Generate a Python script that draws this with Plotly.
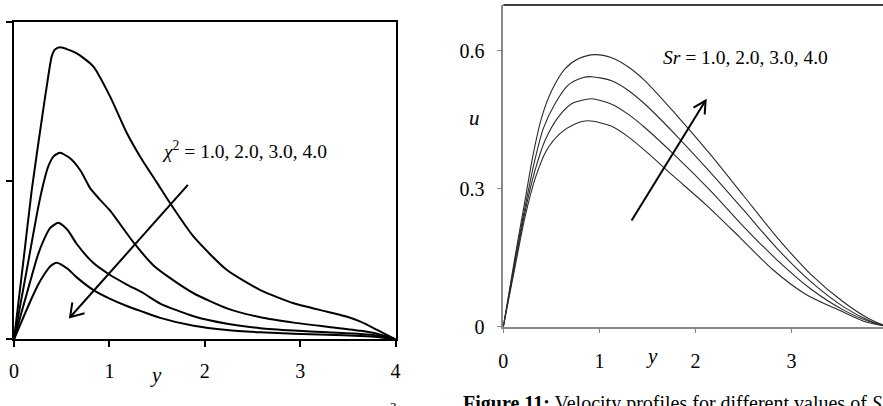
import math
import plotly.graph_objects as go

W, H = 883, 406
FONT = "Liberation Serif, Times New Roman, serif"

# ---------------- Left panel: chi^2 = 1.0, 2.0, 3.0, 4.0 ----------------
chi_labels = ["χ² = 1.0", "χ² = 2.0", "χ² = 3.0", "χ² = 4.0"]
left_x1 = [0, 0.098, 0.186, 0.300, 0.350, 0.395, 0.430, 0.483, 0.658, 0.833, 1.008, 1.183, 1.323,
           1.500, 1.638, 1.883, 2.233, 2.583, 2.933, 3.283, 3.493, 3.633, 3.808, 4.0]
left_y1 = [0, 0.49, 0.94, 1.42, 1.62, 1.78, 1.825, 1.839, 1.801, 1.717, 1.528, 1.299, 1.150,
           0.985, 0.856, 0.646, 0.436, 0.310, 0.227, 0.174, 0.142, 0.111, 0.059, 0]
left_x2 = [0, 0.150, 0.250, 0.308, 0.360, 0.420, 0.483, 0.588, 0.700, 0.800, 0.900, 1.008,
           1.253, 1.463, 1.638, 1.883, 2.233, 2.583, 2.933, 3.283, 3.633, 3.808, 4.0]
left_y2 = [0, 0.49, 0.82, 0.98, 1.09, 1.155, 1.174, 1.140, 1.06, 0.95, 0.88, 0.81,
           0.61, 0.465, 0.385, 0.290, 0.195, 0.139, 0.105, 0.079, 0.054, 0.035, 0]
left_x3 = [0, 0.168, 0.250, 0.308, 0.378, 0.465, 0.560, 0.658, 0.833, 1.008, 1.183, 1.358,
           1.533, 1.883, 2.233, 2.583, 2.933, 3.283, 3.633, 3.808, 4.0]
left_y3 = [0, 0.360, 0.530, 0.620, 0.700, 0.734, 0.690, 0.600, 0.480, 0.405, 0.345, 0.290,
           0.225, 0.145, 0.098, 0.070, 0.055, 0.044, 0.034, 0.025, 0]
left_x4 = [0, 0.168, 0.250, 0.308, 0.378, 0.448, 0.560, 0.658, 0.833, 1.008, 1.183, 1.358,
           1.533, 1.883, 2.233, 2.583, 2.933, 3.283, 3.633, 3.808, 4.0]
left_y4 = [0, 0.235, 0.340, 0.400, 0.458, 0.482, 0.445, 0.390, 0.310, 0.255, 0.210, 0.172,
           0.135, 0.085, 0.058, 0.044, 0.035, 0.028, 0.021, 0.015, 0]
left_xticks = [0, 1, 2, 3, 4]
left_yticks = [0, 1, 2]
left_arrow_tail = (1.823, 0.972)
left_arrow_head = (0.588, 0.139)

# ---------------- Right panel: Sr = 1.0, 2.0, 3.0, 4.0 ----------------
sr_labels = ["Sr = 1.0", "Sr = 2.0", "Sr = 3.0", "Sr = 4.0"]
right_x1 = [0, 0.122, 0.226, 0.337, 0.451, 0.590, 0.746, 0.885, 1.128, 1.301, 1.475, 1.769,
            2.116, 2.463, 2.800, 3.150, 3.503, 3.750, 4.0]
right_y1 = [0, 0.130, 0.239, 0.326, 0.384, 0.420, 0.441, 0.448, 0.436, 0.413, 0.383, 0.328,
            0.264, 0.194, 0.125, 0.070, 0.035, 0.012, 0]
right_x2 = [0, 0.122, 0.226, 0.330, 0.434, 0.572, 0.711, 0.850, 0.920, 1.128, 1.301, 1.475,
            1.800, 2.150, 2.500, 2.850, 3.200, 3.550, 3.800, 4.0]
right_y2 = [0, 0.138, 0.250, 0.340, 0.405, 0.456, 0.485, 0.494, 0.496, 0.484, 0.462, 0.433,
            0.370, 0.297, 0.218, 0.145, 0.082, 0.035, 0.012, 0]
right_x3 = [0, 0.122, 0.226, 0.323, 0.416, 0.538, 0.672, 0.816, 0.920, 1.128, 1.301, 1.475,
            1.800, 2.150, 2.500, 2.850, 3.200, 3.550, 3.800, 4.0]
right_y3 = [0, 0.145, 0.260, 0.358, 0.431, 0.485, 0.525, 0.541, 0.544, 0.535, 0.514, 0.484,
            0.416, 0.337, 0.254, 0.170, 0.098, 0.042, 0.014, 0]
right_x4 = [0, 0.122, 0.226, 0.312, 0.400, 0.504, 0.642, 0.780, 0.954, 1.128, 1.301, 1.475,
            1.800, 2.150, 2.500, 2.850, 3.200, 3.550, 3.800, 4.0]
right_y4 = [0, 0.152, 0.275, 0.376, 0.456, 0.514, 0.561, 0.583, 0.592, 0.585, 0.565, 0.535,
            0.461, 0.376, 0.285, 0.194, 0.114, 0.052, 0.018, 0]
right_xticks = [0, 1, 2, 3]
right_yticks = [0, 0.3, 0.6]
right_yticktext = ["0", "0.3", "0.6"]
right_arrow_tail = (1.335, 0.231)
right_arrow_head = (2.105, 0.492)


def fx(px):
    return px / W


def fy(py):
    return 1 - py / H


# panel pixel geometry
LX0, LX1, LY0, LY1 = 14, 395.5, 21.7, 339.3
RX0, RY0, RY1 = 503.3, 5, 326.7
R_PX_PER_X = 96.1
right_xmax = (W - RX0) / R_PX_PER_X
L_YMAX, R_YMAX = 2.0, 0.7


def left_px(x, y):
    return LX0 + x * (LX1 - LX0) / 4.0, LY1 - y * (LY1 - LY0) / L_YMAX


def right_px(x, y):
    return RX0 + x * R_PX_PER_X, RY1 - y * (RY1 - RY0) / R_YMAX


fig = go.Figure()

for xs, ys, name in zip([left_x1, left_x2, left_x3, left_x4],
                        [left_y1, left_y2, left_y3, left_y4], chi_labels):
    fig.add_trace(go.Scatter(x=xs, y=ys, name=name, mode="lines", xaxis="x", yaxis="y",
                             line=dict(color="black", width=2, shape="spline", smoothing=0.6),
                             showlegend=False, hoverinfo="skip"))

for xs, ys, name in zip([right_x1, right_x2, right_x3, right_x4],
                        [right_y1, right_y2, right_y3, right_y4], sr_labels):
    fig.add_trace(go.Scatter(x=xs, y=ys, name=name, mode="lines", xaxis="x2", yaxis="y2",
                             line=dict(color="#2a2a2a", width=1.1, shape="spline", smoothing=0.8),
                             showlegend=False, hoverinfo="skip"))

tickfont = dict(family=FONT, size=20, color="black")

fig.update_layout(
    width=W, height=H, margin=dict(l=0, r=0, t=0, b=0, autoexpand=False),
    paper_bgcolor="white", plot_bgcolor="white",
    xaxis=dict(domain=[fx(LX0), fx(LX1)], range=[0, 4], tickvals=left_xticks,
               ticks="outside", ticklen=6, tickwidth=1.5, tickcolor="black",
               showline=True, linecolor="black", linewidth=1.5, mirror=True,
               showgrid=False, zeroline=False, tickfont=tickfont, ticklabelstandoff=7,
               anchor="y", automargin=False),
    yaxis=dict(domain=[fy(LY1), fy(LY0)], range=[0, L_YMAX], tickvals=left_yticks,
               ticks="outside", ticklen=6, tickwidth=1.5, tickcolor="black",
               showline=True, linecolor="black", linewidth=1.5, mirror=True,
               showgrid=False, zeroline=False, showticklabels=False, anchor="x",
               automargin=False),
    xaxis2=dict(domain=[fx(RX0), 1.0], range=[0, right_xmax], tickvals=right_xticks,
                ticks="outside", ticklen=5, tickwidth=1.2, tickcolor="#888888",
                showline=True, linecolor="#888888", linewidth=1.5,
                showgrid=False, zeroline=False, tickfont=tickfont, ticklabelstandoff=11,
                anchor="y2", automargin=False),
    yaxis2=dict(domain=[fy(RY1), fy(RY0)], range=[0, R_YMAX], tickvals=right_yticks,
                ticktext=right_yticktext,
                ticks="outside", ticklen=5, tickwidth=1.2, tickcolor="#888888",
                showline=True, linecolor="#888888", linewidth=1.5,
                showgrid=False, zeroline=False, tickfont=tickfont, ticklabelstandoff=8,
                anchor="x2", automargin=False),
)

shapes = []
# top border of right panel
shapes.append(dict(type="line", xref="paper", yref="paper", x0=fx(RX0), x1=1.0,
                   y0=fy(RY0), y1=fy(RY0), line=dict(color="black", width=1.5)))


def arrow_shapes(tail_px, head_px, arm=14, half_angle=32):
    tx, ty = tail_px
    hx, hy = head_px
    ang = math.atan2(ty - hy, tx - hx)
    a = math.radians(half_angle)
    p1 = (hx + arm * math.cos(ang + a), hy + arm * math.sin(ang + a))
    p2 = (hx + arm * math.cos(ang - a), hy + arm * math.sin(ang - a))
    line = dict(type="line", xref="paper", yref="paper",
                x0=fx(tx), y0=fy(ty), x1=fx(hx), y1=fy(hy),
                line=dict(color="black", width=2))
    path = "M{:.5f},{:.5f} L{:.5f},{:.5f} L{:.5f},{:.5f}".format(
        fx(p1[0]), fy(p1[1]), fx(hx), fy(hy), fx(p2[0]), fy(p2[1]))
    head = dict(type="path", xref="paper", yref="paper", path=path,
                line=dict(color="black", width=2))
    return [line, head]


shapes += arrow_shapes(left_px(*left_arrow_tail), left_px(*left_arrow_head), arm=15, half_angle=33)
shapes += arrow_shapes(right_px(*right_arrow_tail), right_px(*right_arrow_head), arm=14, half_angle=28)
fig.update_layout(shapes=shapes)

ann = []
# labels
ann.append(dict(x=fx(160), y=fy(150), xref="paper", yref="paper", xanchor="left", yanchor="middle",
                text="<i>χ</i><sup>2</sup> = 1.0, 2.0, 3.0, 4.0", showarrow=False,
                font=dict(family=FONT, size=19.5, color="black")))
ann.append(dict(x=fx(661), y=fy(57), xref="paper", yref="paper", xanchor="left", yanchor="middle",
                text="<i>Sr</i> = 1.0, 2.0, 3.0, 4.0", showarrow=False,
                font=dict(family=FONT, size=19.5, color="black")))
# axis titles
ann.append(dict(x=fx(156), y=fy(375), xref="paper", yref="paper", xanchor="center", yanchor="middle",
                text="<i>y</i>", showarrow=False, font=dict(family=FONT, size=21, color="black")))
ann.append(dict(x=fx(652), y=fy(356), xref="paper", yref="paper", xanchor="center", yanchor="middle",
                text="<i>y</i>", showarrow=False, font=dict(family=FONT, size=21, color="black")))
ann.append(dict(x=fx(475), y=fy(118), xref="paper", yref="paper", xanchor="center", yanchor="middle",
                text="<i>u</i>", showarrow=False, font=dict(family=FONT, size=21, color="black")))
# caption (cut off at bottom, as in the source page)
ann.append(dict(x=fx(460.5), y=fy(403), xref="paper", yref="paper", xanchor="left", yanchor="middle",
                text="<b>Figure 11:</b> Velocity profiles for different values of <i>S</i>",
                showarrow=False, font=dict(family=FONT, size=20, color="black")))
ann.append(dict(x=fx(393), y=fy(406), xref="paper", yref="paper", xanchor="center", yanchor="middle",
                text="2", showarrow=False, font=dict(family=FONT, size=13, color="black")))
fig.update_layout(annotations=ann)

fig.write_html("out.html")
